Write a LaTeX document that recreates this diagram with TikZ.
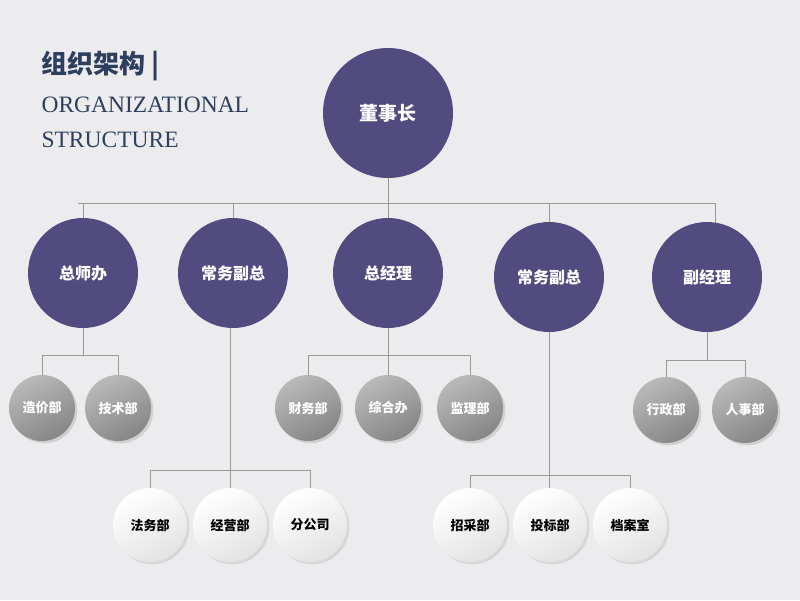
\documentclass[tikz,border=0pt]{standalone}
\usepackage{fontspec}
\setmainfont{Liberation Serif}
\newfontfamily\cjk{Noto Sans CJK SC}
\usetikzlibrary{shadows}
\definecolor{purp}{HTML}{514B80}
\definecolor{navy}{HTML}{2E3F5E}
\definecolor{bg}{HTML}{ECECEF}
\tikzset{
  big/.style={circle,fill=purp,minimum size=130pt,inner sep=0,text=white,font=\cjk\bfseries\fontsize{19}{21}\selectfont},
  mid/.style={circle,fill=purp,minimum size=110pt,inner sep=0,text=white,font=\cjk\bfseries\fontsize{16}{18}\selectfont},
  grayc/.style={circle,inner sep=0,minimum size=66pt,top color=gray!55,bottom color=gray!95,shading angle=30,text=white,font=\cjk\bfseries\fontsize{13}{15}\selectfont,drop shadow={opacity=0.25}},
  whitec/.style={circle,inner sep=0,minimum size=74pt,top color=white,bottom color=gray!22,shading angle=30,text=black,font=\cjk\bfseries\fontsize{13}{15}\selectfont,drop shadow={opacity=0.2}},
  ln/.style={draw=gray!80,line width=0.8pt}
}
\begin{document}
\begin{tikzpicture}[x=1pt,y=-1pt]
\fill[bg] (0,0) rectangle (800,600);
\useasboundingbox (0,0) rectangle (800,600);
\node[anchor=west,text=navy,font=\cjk\bfseries\fontsize{26}{28}\selectfont] (t1) at (38,66) {组织架构 |};
\node[anchor=west,text=navy,font=\fontsize{23.5}{25}\selectfont] (t2) at (38,105) {ORGANIZATIONAL};
\node[anchor=west,text=navy,font=\fontsize{23.5}{25}\selectfont] (t3) at (38,140) {STRUCTURE};
\coordinate (b0) at (388,203);
\coordinate (bl) at (78,203);
\coordinate (br) at (715,203);
\draw[ln] (bl) -- (br);
\draw[ln] (b0) -- (388,113);
\foreach \x/\y in {83/273,233/273,388/273,549/277,715/277}{\draw[ln] (\x,203) -- (\x,\y);}
\draw[ln] (42,355) -- (118,355) (42,355)--(42,408) (118,355)--(118,408) (83,273)--(83,355);
\draw[ln] (308,355) -- (470,355) (308,355)--(308,408) (470,355)--(470,408) (388,273)--(388,408);
\draw[ln] (666,360) -- (745,360) (666,360)--(666,410) (745,360)--(745,410) (707,277)--(707,360);
\draw[ln] (150,470) -- (310,470) (150,470)--(150,525) (310,470)--(310,525) (230,273)--(230,525);
\draw[ln] (470,475) -- (630,475) (470,475)--(470,525) (630,475)--(630,525) (549,277)--(549,525);
\node[big] (a) at (388,113) {董事长};
\node[mid] (m1) at (83,273) {总师办};
\node[mid] (m2) at (233,273) {常务副总};
\node[mid] (m3) at (388,273) {总经理};
\node[mid] (m4) at (549,277) {常务副总};
\node[mid] (m5) at (707,277) {副经理};
\node[grayc] (g1) at (42,408) {造价部};
\node[grayc] (g2) at (118,408) {技术部};
\node[grayc] (g3) at (308,408) {财务部};
\node[grayc] (g4) at (388,408) {综合办};
\node[grayc] (g5) at (470,408) {监理部};
\node[grayc] (g6) at (666,410) {行政部};
\node[grayc] (g7) at (745,410) {人事部};
\node[whitec] (w1) at (150,525) {法务部};
\node[whitec] (w2) at (230,525) {经营部};
\node[whitec] (w3) at (310,525) {分公司};
\node[whitec] (w4) at (470,525) {招采部};
\node[whitec] (w5) at (550,525) {投标部};
\node[whitec] (w6) at (630,525) {档案室};
\end{tikzpicture}
\end{document}
